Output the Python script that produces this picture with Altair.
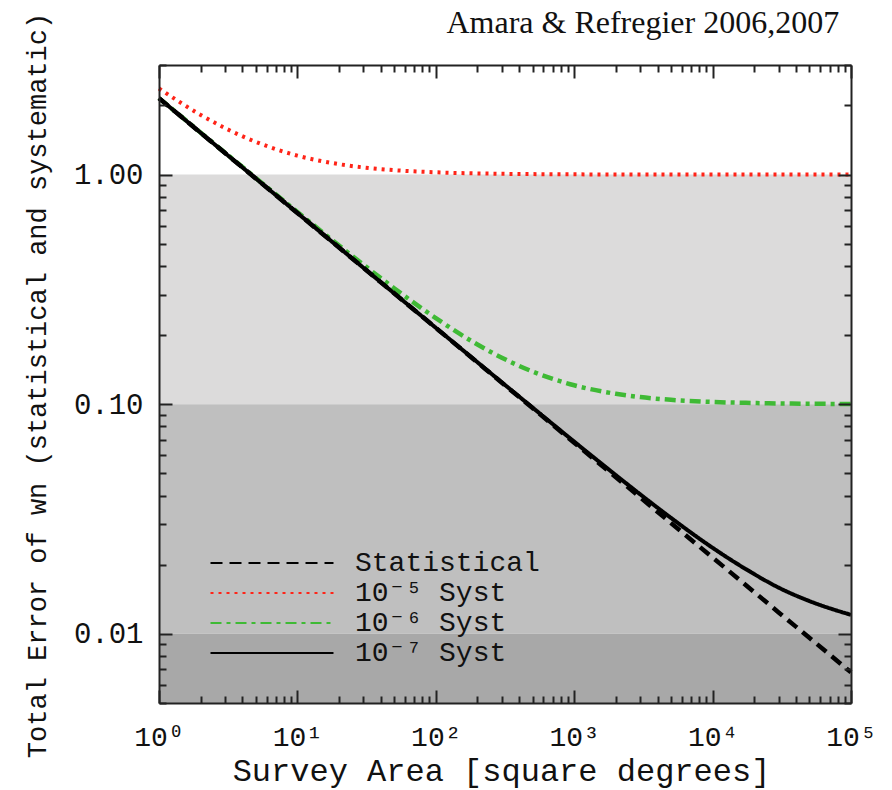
import altair as alt
import pandas as pd

# ---------------- data ----------------
area = [1, 2, 3, 5, 10, 20, 30, 50, 100, 200, 300, 500, 1000, 2000, 3000,
        5000, 10000, 20000, 30000, 50000, 100000]
statistical = [2.15, 1.520, 1.241, 0.962, 0.680, 0.481, 0.3925, 0.304, 0.215,
               0.152, 0.1241, 0.0962, 0.0680, 0.0481, 0.0393, 0.0304, 0.0215,
               0.0152, 0.0124, 0.00962, 0.00680]
syst_1e5 = [2.371, 1.819, 1.594, 1.388, 1.209, 1.110, 1.074, 1.045, 1.023,
            1.0115, 1.0077, 1.0046, 1.0023, 1.0012, 1.0008, 1.0005, 1.000,
            1.000, 1.000, 1.000, 1.000]
syst_1e6 = [2.152, 1.523, 1.245, 0.967, 0.687, 0.491, 0.405, 0.320, 0.2371,
            0.1819, 0.1594, 0.1388, 0.1209, 0.1110, 0.1074, 0.1045, 0.1023,
            0.1012, 0.1008, 0.1005, 0.1002]
syst_1e7 = [2.15, 1.520, 1.241, 0.962, 0.680, 0.481, 0.3926, 0.304, 0.2152,
            0.1523, 0.1245, 0.0967, 0.0687, 0.0491, 0.0405, 0.0320, 0.0237,
            0.0182, 0.0159, 0.0139, 0.0121]

series_names = ["Statistical", "10⁻⁵ Syst", "10⁻⁶ Syst", "10⁻⁷ Syst"]

band_names = ["0.1 - 1", "0.01 - 0.1", "< 0.01"]
band_top = [1.0, 0.1, 0.01]
band_bottom = [0.1, 0.01, 0.005]

x_major = [1, 10, 100, 1000, 10000, 100000]
x_labels = ["10⁰", "10¹", "10²", "10³", "10⁴", "10⁵"]
y_major = [0.01, 0.1, 1.0]
x_minor = [m * 10 ** k for k in range(5) for m in range(2, 10)]
y_minor = [round(m * 10.0 ** k, 6) for k in (-3, -2, -1, 0) for m in range(2, 10)
           if 0.005 <= m * 10.0 ** k <= 3]

credit = "Amara & Refregier 2006,2007"
x_title = "Survey Area [square degrees]"
y_title = "Total Error of wn (statistical and systematic)"

# ---------------- tables ----------------
rows = []
for name, vals in zip(series_names, [statistical, syst_1e5, syst_1e6, syst_1e7]):
    for a, v in zip(area, vals):
        rows.append({"area": a, "value": v, "series": name})
df = pd.DataFrame(rows)

bands = pd.DataFrame({
    "band": band_names,
    "x0": [area[0]] * 3,
    "x1": [area[-1]] * 3,
    "top": band_top,
    "bottom": band_bottom,
})

# ---------------- styling ----------------
W, H = 692, 638
MONO = "Liberation Mono, DejaVu Sans Mono, monospace"
FRAME = "#222222"

xscale = alt.Scale(type="log", domain=[1, 100000])
yscale = alt.Scale(type="log", domain=[0.005, 3])

label_expr = "[" + ",".join("'%s'" % s for s in x_labels) + "][round(log(datum.value)/LN10)]"

x_label_axis = alt.Axis(
    orient="bottom", values=x_major, labelExpr=label_expr, ticks=False, tickSize=0,
    domain=True, domainColor=FRAME, domainWidth=2, zindex=1, grid=False,
    labelFont=MONO, labelFontSize=28, labelColor="#111111", labelPadding=42,
    labelBaseline="alphabetic", labelOverlap=False, labelFlush=False, labelBound=False,
    title=x_title, titleFont=MONO, titleFontSize=32, titleFontWeight="normal",
    titleColor="#111111", titleX=342, titleY=77, titleBaseline="alphabetic",
)
y_label_axis = alt.Axis(
    orient="left", values=y_major, format=".2f", ticks=False, tickSize=0,
    domain=True, domainColor=FRAME, domainWidth=2, zindex=1, grid=False,
    labelFont=MONO, labelFontSize=29, labelColor="#111111", labelPadding=16,
    labelBaseline="middle", labelOverlap=False, labelFlush=False, labelBound=False,
    title=y_title, titleFont=MONO, titleFontSize=27, titleFontWeight="normal",
    titleColor="#111111", titleX=-114, titleY=320, titleBaseline="alphabetic",
)


def tick_axis(orient, values, size):
    return alt.Axis(orient=orient, values=values, tickSize=size, offset=-size,
                    labels=False, domain=False, grid=False, title=None,
                    tickColor=FRAME, tickWidth=2, zindex=1)


def frame_axis(orient):
    return alt.Axis(orient=orient, ticks=False, labels=False, domain=True,
                    domainColor=FRAME, domainWidth=2, grid=False, title=None,
                    zindex=1)


band_layer = alt.Chart(bands).mark_rect().encode(
    x=alt.X("x0:Q", scale=xscale, axis=x_label_axis),
    x2="x1:Q",
    y=alt.Y("top:Q", scale=yscale, axis=y_label_axis),
    y2="bottom:Q",
    fill=alt.Fill("band:N", scale=alt.Scale(domain=band_names,
                                            range=["#dcdbdb", "#bfbfbf", "#a8a8a8"]),
                  legend=None),
)


def axis_layer(xaxis, yaxis):
    return alt.Chart(df).mark_point(opacity=0).encode(
        x=alt.X("area:Q", scale=xscale, axis=xaxis),
        y=alt.Y("value:Q", scale=yscale, axis=yaxis),
    )


axis_layers = [
    axis_layer(tick_axis("bottom", x_major, 13), tick_axis("left", y_major, 13)),
    axis_layer(tick_axis("bottom", x_minor, 7), tick_axis("left", y_minor, 7)),
    axis_layer(tick_axis("top", x_major, 13), tick_axis("right", y_major, 13)),
    axis_layer(tick_axis("top", x_minor, 7), tick_axis("right", y_minor, 7)),
    axis_layer(frame_axis("top"), frame_axis("right")),
]

color_scale = alt.Scale(domain=series_names,
                        range=["#000000", "#ff2418", "#3fba35", "#000000"])
dash_scale = alt.Scale(domain=series_names,
                       range=[[12, 7], [3, 5], [11, 5, 4, 5], [1, 0]])
legend = alt.Legend(
    title=None, orient="none", legendX=99, legendY=484, symbolType="M-5,0H5",
    symbolSize=605, symbolStrokeWidth=2, labelFont=MONO, labelFontSize=28,
    labelColor="#111111", labelOffset=69, rowPadding=2, padding=0,
    labelLimit=400,
)


def line_layer(name, width):
    return alt.Chart(df).transform_filter(alt.datum.series == name).mark_line(
        strokeWidth=width, interpolate="monotone"
    ).encode(
        x=alt.X("area:Q", scale=xscale, axis=None),
        y=alt.Y("value:Q", scale=yscale, axis=None),
        color=alt.Color("series:N", scale=color_scale, legend=legend),
        strokeDash=alt.StrokeDash("series:N", scale=dash_scale, legend=legend),
    )


lines = [
    line_layer(series_names[1], 4),
    line_layer(series_names[2], 4.5),
    line_layer(series_names[0], 4.5),
    line_layer(series_names[3], 4),
]

chart = alt.layer(band_layer, *axis_layers, *lines).resolve_axis(
    x="independent", y="independent"
).properties(
    width=W, height=H,
    autosize=alt.AutoSizeParams(type="none"),
    padding={"left": 159, "top": 65, "right": 41, "bottom": 87},
    title=alt.TitleParams(credit, anchor="end", font="Liberation Serif",
                          fontSize=32, fontWeight="normal", color="#111111",
                          dx=-37, dy=53, offset=0, baseline="alphabetic"),
).configure_view(stroke=None).configure(background="white")

chart.save("out.html", embed_options={"renderer": "svg", "actions": False})
